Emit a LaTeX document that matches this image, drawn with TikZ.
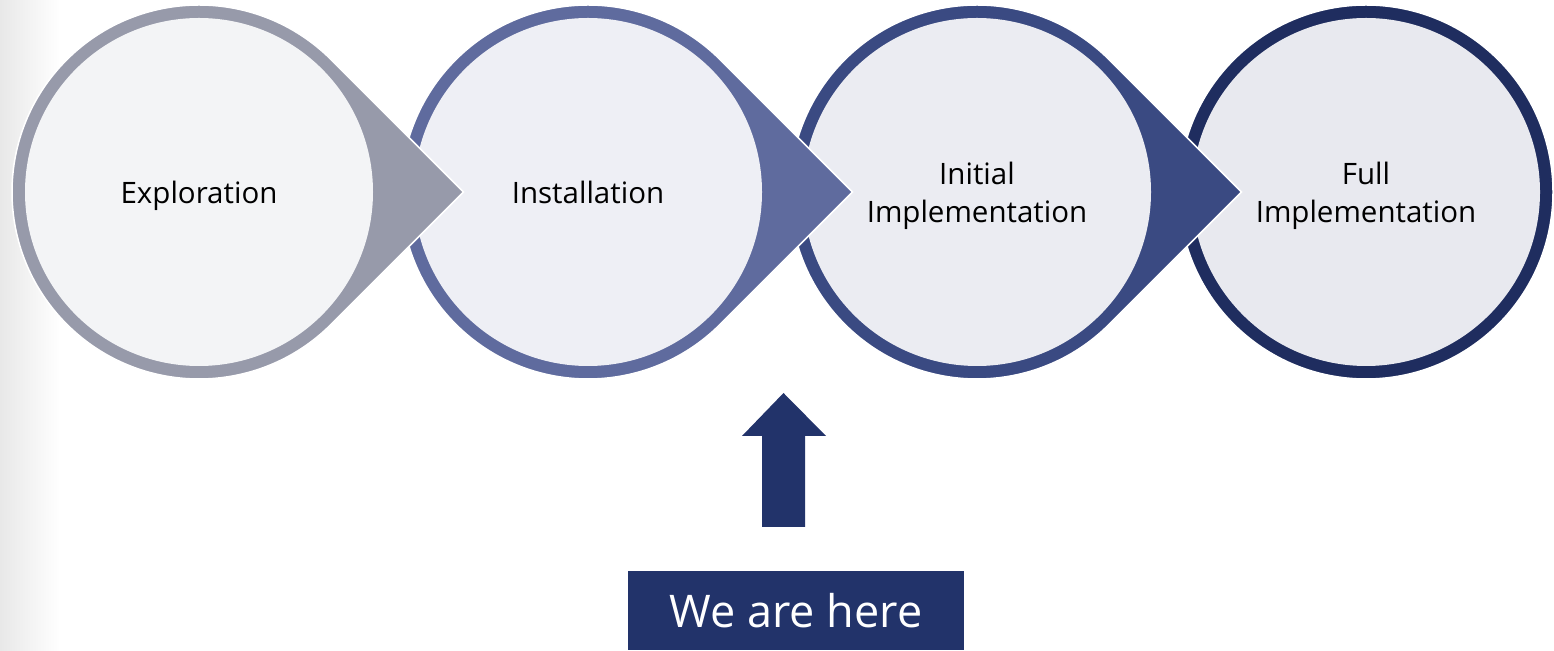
\documentclass[tikz,border=0pt]{standalone}
\usepackage{fontspec}
\setmainfont{Open Sans}
\usepackage{xcolor}
\usetikzlibrary{positioning}

% ring and face colours of the four stages
\definecolor{exploreRing}{HTML}{979AAA}
\definecolor{exploreFace}{HTML}{F3F4F6}
\definecolor{installRing}{HTML}{5F6B9E}
\definecolor{installFace}{HTML}{EEEFF5}
\definecolor{initialRing}{HTML}{3A4A82}
\definecolor{initialFace}{HTML}{EBECF2}
\definecolor{fullRing}{HTML}{1F2D5F}
\definecolor{fullFace}{HTML}{E8E9EF}
\definecolor{hereBlue}{HTML}{22336A}

\tikzset{
  stage/.style={inner sep=0pt, align=center, font=\fontsize{29.5}{38}\selectfont},
  ring/.style={draw=white, line width=1.5pt},
  herebox/.style={rectangle, fill=hereBlue, text=white, minimum width=336pt,
    minimum height=79pt, inner sep=0pt, font=\fontsize{45}{50}\selectfont}
}

\begin{document}
\begin{tikzpicture}[x=1pt, y=1pt]
    \useasboundingbox (0,0) rectangle (1554,650);

    % soft shadow along the left edge
    \shade[left color=black!9, right color=white] (0,0) rectangle (60,650);

    % Full Implementation (no pointer)
    \filldraw[fill=fullRing, ring] (1366,458) circle (187);
    \fill[fullFace] (1366,458) circle (174);
    \node[stage] (full) at (1366,454) {Full\\Implementation};

    % Other stages, right to left so each pointer lies over the next circle
    \foreach \cx/\ty/\rcol/\fcol/\name/\txt in {
        977/454/initialRing/initialFace/initial/{Initial\\Implementation},
        588/458/installRing/installFace/install/{Installation},
        199/454/exploreRing/exploreFace/explore/{Exploration}}
    {
        \filldraw[fill=\rcol, ring] (\cx,458) ++(45:187)
            arc[start angle=45, end angle=315, radius=187]
            -- (\cx+264.5,458) -- cycle;
        \fill[\fcol] (\cx,458) circle (174);
        \node[stage] (\name) at (\cx,\ty) {\txt};
    }

    % We are here
    \node[herebox] (here) at (796,39.5) {We are here};
    \fill[hereBlue] (762,123) -- (762,214) -- (742,214) -- (783.5,257)
        -- (826,214) -- (805,214) -- (805,123) -- cycle;
\end{tikzpicture}
\end{document}
